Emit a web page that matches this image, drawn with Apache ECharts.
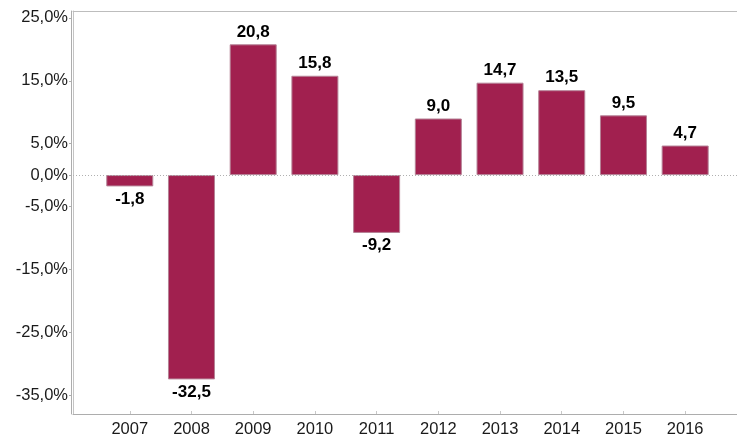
<!DOCTYPE html>
<html>
<head>
<meta charset="utf-8">
<script src="https://cdn.jsdelivr.net/npm/echarts@6/dist/echarts.min.js"></script>
<style>html,body{margin:0;padding:0;background:#fff;}#c{width:737px;height:439px;}</style>
</head>
<body>
<div id="c"></div>
<script>
var years = ['2007','2008','2009','2010','2011','2012','2013','2014','2015','2016'];
var values = [-1.8, -32.5, 20.8, 15.8, -9.2, 9.0, 14.7, 13.5, 9.5, 4.7];
var yTicks = [-35, -25, -15, -5, 0, 5, 15, 25];

function fmt(v){ return v.toFixed(1).replace('.', ','); }

var chart = echarts.init(document.getElementById('c'), null, {renderer:'canvas'});
var idx = years.map(function(_, i){ return i; });
var data = values.map(function(v, i){
  return {
    value: [i, v],
    label: { position: v < 0 ? 'bottom' : 'top' }
  };
});

var lineCol = '#adadad';

chart.setOption({
  animation: false,
  grid: { left: 73, right: 0, top: 11, bottom: 25 },
  xAxis: [{
    type: 'value',
    min: -0.92, max: 9.84,
    splitLine: { show: false },
    axisLine: { show: true, onZero: false, lineStyle: { color: lineCol, width: 1 } },
    axisTick: { show: true, customValues: idx, length: 3, inside: true, lineStyle: { color: '#c8c8c8' } },
    axisLabel: {
      customValues: idx,
      formatter: function(v){ return years[Math.round(v)]; },
      fontFamily: 'Liberation Sans', fontSize: 16.5, color: '#1a1a1a', margin: 7
    }
  }, {
    type: 'value', position: 'top',
    min: -0.92, max: 9.84,
    splitLine: { show: false },
    axisLine: { show: true, onZero: false, lineStyle: { color: '#bdbdbd', width: 1 } },
    axisTick: { show: false }, axisLabel: { show: false }
  }],
  yAxis: [{
    type: 'value',
    min: -38, max: 26.1,
    offset: 2,
    splitLine: { show: false },
    axisLine: { show: true, onZero: false, lineStyle: { color: lineCol, width: 1 } },
    axisTick: { show: true, customValues: yTicks, length: 2, lineStyle: { color: lineCol } },
    axisLabel: {
      customValues: yTicks,
      formatter: function(v){ return fmt(v) + '%'; },
      fontFamily: 'Liberation Sans', fontSize: 16.5, color: '#1a1a1a', margin: 3
    }
  }, {
    type: 'value', position: 'left',
    min: -38, max: 26.1,
    offset: 0,
    splitLine: { show: false },
    axisLine: { show: true, onZero: false, lineStyle: { color: '#c4c4c4', width: 1 } },
    axisTick: { show: false }, axisLabel: { show: false }
  }],
  series: [{
    type: 'bar',
    data: data,
    barWidth: 47,
    itemStyle: { color: '#A1204F', borderColor: '#b58296', borderWidth: 1 },
    label: {
      show: true,
      distance: 4,
      formatter: function(p){ return fmt(p.value[1]); },
      fontFamily: 'Liberation Sans', fontWeight: 'bold', fontSize: 17, color: '#000'
    },
    markLine: {
      silent: true,
      symbol: ['none', 'none'],
      label: { show: false },
      lineStyle: { color: '#b0b0b0', type: [1, 2], width: 1 },
      data: [{ yAxis: 0 }]
    }
  }]
});
</script>
</body>
</html>
